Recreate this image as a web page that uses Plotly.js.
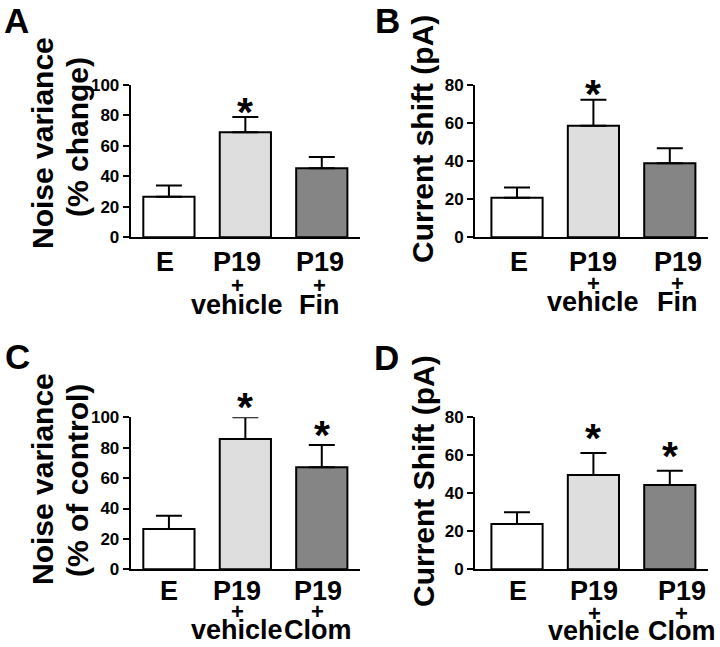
<!DOCTYPE html>
<html>
<head>
<meta charset="utf-8">
<script src="https://cdn.plot.ly/plotly-3.0.1.min.js"></script>
<style>html,body{margin:0;padding:0;background:#fff;}#chart{width:720px;height:647px;}</style>
</head>
<body>
<div id="chart"></div>
<script>
// ---- data ----
const categoriesFin  = ['E', 'P19 + vehicle', 'P19 + Fin'];
const categoriesClom = ['E', 'P19 + vehicle', 'P19 + Clom'];
const labelLine1Fin  = ['E', 'P19', 'P19'];
const labelLine2Fin  = ['', '+', '+'];
const labelLine3Fin  = ['', 'vehicle', 'Fin'];
const labelLine1Clom = ['E', 'P19', 'P19'];
const labelLine2Clom = ['', '+', '+'];
const labelLine3Clom = ['', 'vehicle', 'Clom'];

const noiseChangeMean = [26.7, 69.0, 45.4];
const noiseChangeSem  = [7.3, 10.0, 7.4];
const shiftFinMean    = [20.8, 58.6, 38.9];
const shiftFinSem     = [5.3, 13.7, 7.9];
const noiseControlMean = [26.5, 85.7, 67.1];
const noiseControlSem  = [8.8, 14.3, 14.7];
const shiftClomMean   = [23.9, 49.6, 44.4];
const shiftClomSem    = [6.1, 11.6, 7.5];

const signifA = ['', '*', ''];
const signifB = ['', '*', ''];
const signifC = ['', '*', '*'];
const signifD = ['', '*', '*'];

const yTicksNoise = [0, 20, 40, 60, 80, 100];
const yTicksShift = [0, 20, 40, 60, 80];

// ---- styles ----
const barColors = ['#ffffff', '#dedede', '#858585'];
const FONT = 'Liberation Sans, Arial, Helvetica, sans-serif';
const W = 720, H = 647;
const px = v => v / W;
const py = v => 1 - v / H;

const panels = [
  {key: '', letter: 'A', cats: categoriesFin, l1: labelLine1Fin, l2: labelLine2Fin, l3: labelLine3Fin,
   mean: noiseChangeMean, sem: noiseChangeSem, sig: signifA, ymax: 100, ticks: yTicksNoise,
   x0: 130.7, x1: 360, yTop: 85, yBot: 237.3, xr: [-0.5, 2.5],
   titles: [{t: 'Noise variance', x: 43, y: 143}, {t: '(% change)', x: 77, y: 137}],
   letterX: 16, letterY: 0, lblShift: [-4, -8, -2], lblY: [25, 48, 68], starGap: 12},
  {key: '2', letter: 'B', cats: categoriesFin, l1: labelLine1Fin, l2: labelLine2Fin, l3: labelLine3Fin,
   mean: shiftFinMean, sem: shiftFinSem, sig: signifB, ymax: 80, ticks: yTicksShift,
   x0: 475, x1: 708, yTop: 85, yBot: 237.3, xr: [-0.55, 2.5],
   titles: [{t: 'Current shift (pA)', x: 422, y: 139}],
   letterX: 387, letterY: 0, lblShift: [2, 0, 8], lblY: [25, 46, 65], starGap: 13},
  {key: '3', letter: 'C', cats: categoriesClom, l1: labelLine1Clom, l2: labelLine2Clom, l3: labelLine3Clom,
   mean: noiseControlMean, sem: noiseControlSem, sig: signifC, ymax: 100, ticks: yTicksNoise,
   x0: 130.7, x1: 360, yTop: 417.3, yBot: 569.3, xr: [-0.5, 2.5],
   titles: [{t: 'Noise variance', x: 43, y: 479}, {t: '(% of control)', x: 77, y: 481}],
   letterX: 17, letterY: 336, lblShift: [0, -8, -4], lblY: [22, 42, 61], starGap: 17},
  {key: '4', letter: 'D', cats: categoriesClom, l1: labelLine1Clom, l2: labelLine2Clom, l3: labelLine3Clom,
   mean: shiftClomMean, sem: shiftClomSem, sig: signifD, ymax: 80, ticks: yTicksShift,
   x0: 475, x1: 708, yTop: 417.3, yBot: 569.3, xr: [-0.55, 2.5],
   titles: [{t: 'Current Shift (pA)', x: 423, y: 481}],
   letterX: 386, letterY: 337, lblShift: [1, 1, 12], lblY: [22, 44, 62], starGap: 22}
];

const data = [];
const layout = {
  width: W, height: H,
  margin: {l: 0, r: 0, t: 0, b: 0},
  paper_bgcolor: '#ffffff', plot_bgcolor: '#ffffff',
  showlegend: false,
  font: {family: FONT, color: '#000'},
  annotations: []
};

panels.forEach(p => {
  const xa = 'x' + p.key, ya = 'y' + p.key;
  data.push({
    type: 'bar', x: p.cats, y: p.mean, xaxis: xa, yaxis: ya, width: 0.67,
    marker: {color: barColors, line: {color: '#000', width: 2}},
    error_y: {type: 'data', symmetric: false, array: p.sem, arrayminus: p.mean.map(() => 0),
              color: '#000', thickness: 2, width: 13},
    hoverinfo: 'none'
  });
  layout['xaxis' + p.key] = {
    domain: [px(p.x0), px(p.x1)], anchor: ya, type: 'category', range: p.xr,
    showline: true, linecolor: '#000', linewidth: 2, ticks: '', showticklabels: false,
    showgrid: false, zeroline: false, fixedrange: true
  };
  layout['yaxis' + p.key] = {
    domain: [py(p.yBot), py(p.yTop)], anchor: xa, range: [0, p.ymax],
    tickvals: p.ticks, ticktext: p.ticks.map(String),
    showline: true, linecolor: '#000', linewidth: 2, ticks: 'outside', ticklen: 6, tickwidth: 2, tickcolor: '#000',
    tickfont: {family: FONT, size: 17, weight: 'bold', color: '#000'},
    showgrid: false, zeroline: false, fixedrange: true
  };
  // category labels (three lines)
  [p.l1, p.l2, p.l3].forEach((line, li) => {
    line.forEach((txt, i) => {
      if (!txt) return;
      layout.annotations.push({
        xref: xa, yref: ya, x: p.cats[i], y: 0, text: txt, showarrow: false, borderpad: 0,
        xanchor: 'center', yanchor: 'middle', xshift: p.lblShift[i], yshift: -p.lblY[li],
        font: {family: FONT, size: li === 1 ? 22 : 27, weight: 'bold', color: '#000'}
      });
    });
  });
  // significance stars
  p.sig.forEach((s, i) => {
    if (!s) return;
    layout.annotations.push({
      xref: xa, yref: ya, x: p.cats[i], y: p.mean[i] + p.sem[i], text: s, showarrow: false, borderpad: 0,
      xanchor: 'center', yanchor: 'middle', yshift: p.starGap - 7,
      font: {family: FONT, size: 41, weight: 'bold', color: '#000'}
    });
  });
  // y titles
  p.titles.forEach(t => {
    layout.annotations.push({
      xref: 'paper', yref: 'paper', x: px(t.x), y: py(t.y), text: t.t, textangle: -90, showarrow: false,
      xanchor: 'center', yanchor: 'middle', borderpad: 0,
      font: {family: FONT, size: 30, weight: 'bold', color: '#000'}
    });
  });
  // panel letter
  layout.annotations.push({
    xref: 'paper', yref: 'paper', x: px(p.letterX), y: py(p.letterY), text: p.letter, showarrow: false,
    xanchor: 'center', yanchor: 'top', borderpad: 0,
    font: {family: FONT, size: 35, weight: 'bold', color: '#000'}
  });
});

Plotly.newPlot('chart', data, layout, {displayModeBar: false, staticPlot: true});
</script>
</body>
</html>
